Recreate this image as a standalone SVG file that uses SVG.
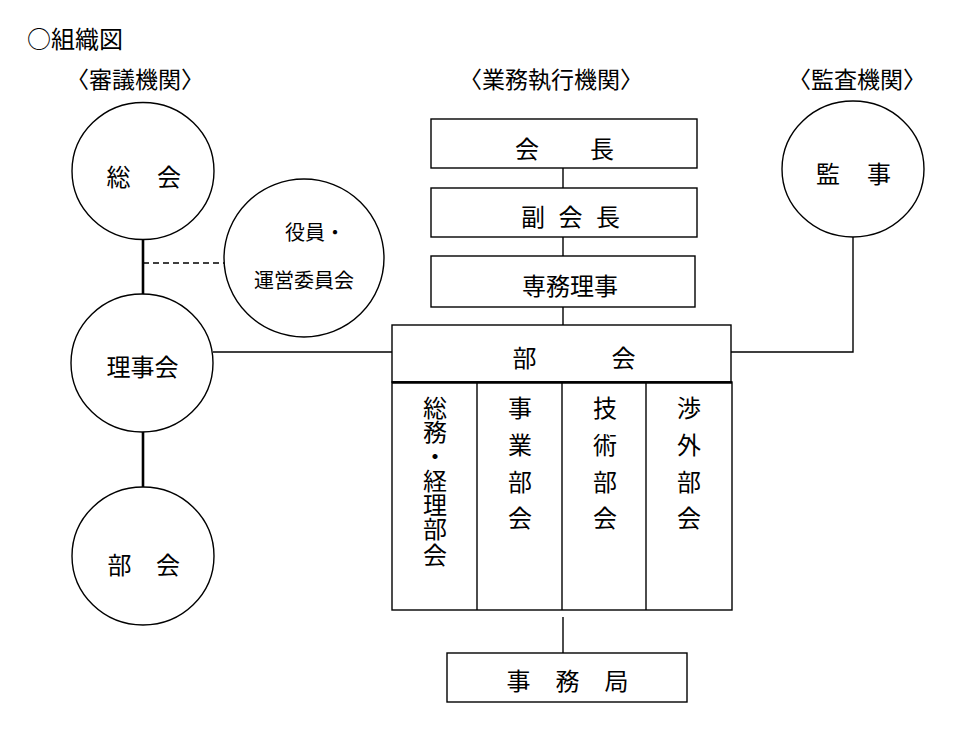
<svg xmlns="http://www.w3.org/2000/svg" width="980" height="733" viewBox="0 0 980 733">
<style>
text{font-family:"Noto Sans CJK JP","Noto Sans CJK SC",sans-serif;fill:#000;dominant-baseline:central;}
.t24{font-size:24px;}
.t23{font-size:23px;}
.t20{font-size:20px;}
.m{text-anchor:middle;}
.shape{fill:#fff;stroke:#000;stroke-width:1.4;}
.ln{fill:none;stroke:#000;stroke-width:1.4;}
.thick{fill:none;stroke:#000;stroke-width:2.6;}
.dash{fill:none;stroke:#000;stroke-width:1.3;stroke-dasharray:6 4;}
</style>
<rect width="980" height="733" fill="#fff"/>
<g id="title">
<text class="t24" x="27" y="37">○組織図</text>
<text class="t23 m" x="135" y="78">〈審議機関〉</text>
<text class="t23 m" x="551" y="78">〈業務執行機関〉</text>
<text class="t23 m" x="857" y="78">〈監査機関〉</text>
</g>
<g id="connectors">
<line class="thick" x1="143" y1="240" x2="143" y2="294"/>
<line class="thick" x1="143" y1="432" x2="143" y2="488"/>
<line class="dash" x1="143" y1="263" x2="224" y2="263"/>
<line class="ln" x1="213" y1="352" x2="392" y2="352"/>
<polyline class="ln" points="853,237 853,352 731,352"/>
<line class="ln" x1="563" y1="168" x2="563" y2="188"/>
<line class="ln" x1="563" y1="237" x2="563" y2="256"/>
<line class="ln" x1="563" y1="307" x2="563" y2="325"/>
<line class="ln" x1="563" y1="617" x2="563" y2="653"/>
</g>
<g id="node-soukai">
<ellipse class="shape" cx="143" cy="171" rx="71" ry="68.5"/>
<text class="t24 m" x="118.5 169" y="175">総会</text>
</g>
<g id="node-yakuin">
<ellipse class="shape" cx="304" cy="258" rx="80" ry="79"/>
<text class="t20" x="285" y="231">役員・</text>
<text class="t20" x="254" y="279">運営委員会</text>
</g>
<g id="node-rijikai">
<ellipse class="shape" cx="142" cy="363" rx="71" ry="69"/>
<text class="t24 m" x="142.5" y="365">理事会</text>
</g>
<g id="node-bukai-circle">
<ellipse class="shape" cx="143" cy="556" rx="71" ry="69"/>
<text class="t24 m" x="119.5 168" y="563">部会</text>
</g>
<g id="node-kanji">
<ellipse class="shape" cx="853" cy="169" rx="71" ry="68"/>
<text class="t24 m" x="828 879" y="172">監事</text>
</g>
<g id="node-kaicho">
<rect class="shape" x="431" y="119" width="266" height="49"/>
<text class="t24 m" x="527 602" y="147">会長</text>
</g>
<g id="node-fukukaicho">
<rect class="shape" x="431" y="188" width="266" height="49"/>
<text class="t24 m" x="533 570.5 608" y="215">副会長</text>
</g>
<g id="node-senmu">
<rect class="shape" x="431" y="256" width="264" height="51"/>
<text class="t24 m" x="570" y="284">専務理事</text>
</g>
<g id="node-bukai-box">
<rect class="shape" x="392" y="325" width="339" height="57"/>
<text class="t24 m" x="524.5 623.5" y="356">部会</text>
</g>
<g id="node-bukai-list">
<rect class="shape" x="392" y="382" width="340" height="228"/>
<line class="ln" x1="477" y1="382" x2="477" y2="610"/>
<line class="ln" x1="562" y1="382" x2="562" y2="610"/>
<line class="ln" x1="646" y1="382" x2="646" y2="610"/>
<line x1="392" y1="382.5" x2="732" y2="382.5" stroke="#000" stroke-width="2.4"/>
<text class="t24 m" x="435 435 435 435 435 435 435" y="406 430 454 479 503 527 553">総務・経理部会</text>
<text class="t24 m" x="520 520 520 520" y="406 443 480 516">事業部会</text>
<text class="t24 m" x="605 605 605 605" y="406 443 480 516">技術部会</text>
<text class="t24 m" x="689 689 689 689" y="406 443 480 516">渉外部会</text>
</g>
<g id="node-jimukyoku">
<rect class="shape" x="447" y="653" width="240" height="49"/>
<text class="t24 m" x="518.5 567.5 616.5" y="679.5">事務局</text>
</g>
</svg>
